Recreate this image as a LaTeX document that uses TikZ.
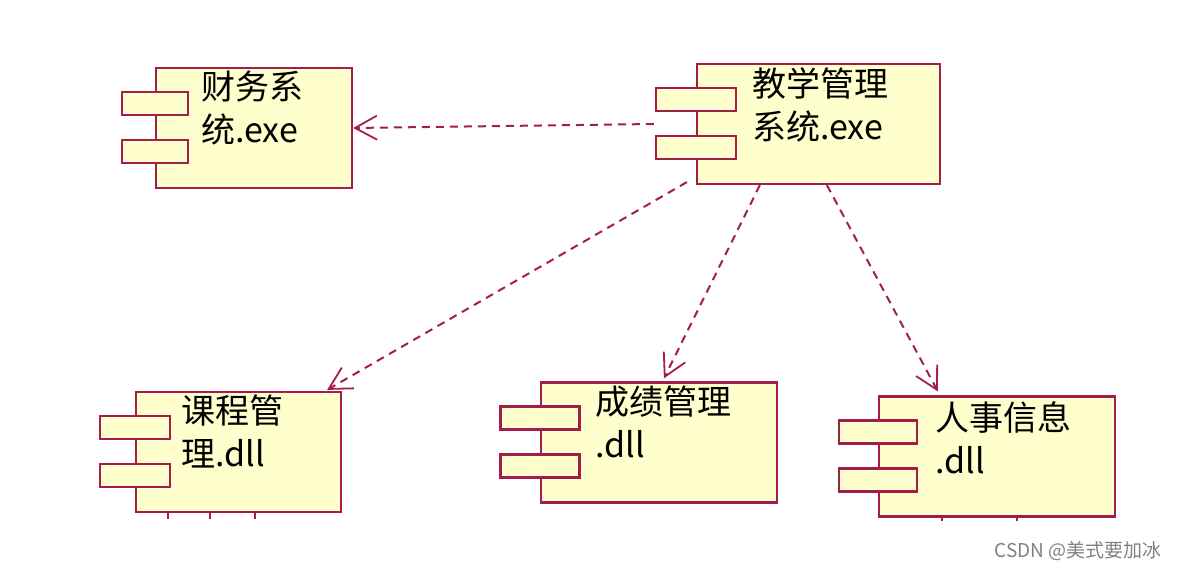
\documentclass[tikz,border=0pt]{standalone}
\usepackage{fontspec}
\setmainfont{Noto Sans CJK SC}
\usetikzlibrary{arrows.meta,calc}
\definecolor{umlred}{RGB}{165,30,75}
\definecolor{umlfill}{RGB}{255,255,206}
\begin{document}
\begin{tikzpicture}[x=0.5pt, y=-0.5pt,
    comp/.style={draw=umlred, fill=umlfill, line width=1.1pt, minimum height=60pt, inner sep=0pt},
    tab/.style={comp, minimum height=11.5pt},
    lbl/.style={anchor=north west, inner sep=0pt, align=left, font=\fontsize{17}{21.5}\selectfont},
    dep/.style={draw=umlred, line width=1pt, dash pattern=on 4pt off 3pt,
      -{Straight Barb[length=11pt, width=12pt, line width=0.9pt]}},
    tick/.style={draw=umlred, line width=1pt}]
  \useasboundingbox (0,0) rectangle (1181,571);
  % components
  \node[comp, minimum width=98pt] (cw) at (254,128) {};
  \node[tab, minimum width=33pt] (cw-t1) at ($(cw.north west)+(0,36.5)$) {};
  \node[tab, minimum width=33pt] (cw-t2) at ($(cw.north west)+(0,84.5)$) {};
  \node[lbl] (cw-l) at ($(cw.north west)+(46,4)$) {财务系\\统.exe};

  \node[comp, minimum width=121.5pt] (jx) at (818.5,124) {};
  \node[tab, minimum width=40pt] (jx-t1) at ($(jx.north west)+(0,36.5)$) {};
  \node[tab, minimum width=40pt] (jx-t2) at ($(jx.north west)+(0,84.5)$) {};
  \node[lbl] (jx-l) at ($(jx.north west)+(56,4)$) {教学管理\\系统.exe};

  \node[comp, minimum width=102.5pt] (kc) at (238.5,452) {};
  \node[tab, minimum width=35pt] (kc-t1) at ($(kc.north west)+(0,36.5)$) {};
  \node[tab, minimum width=35pt] (kc-t2) at ($(kc.north west)+(0,84.5)$) {};
  \node[lbl] (kc-l) at ($(kc.north west)+(46,4)$) {课程管\\理.dll};

  \node[comp, minimum width=118pt] (cj) at (659,442.5) {};
  \node[tab, minimum width=39.5pt] (cj-t1) at ($(cj.north west)+(0,36.5)$) {};
  \node[tab, minimum width=39.5pt] (cj-t2) at ($(cj.north west)+(0,84.5)$) {};
  \node[lbl] (cj-l) at ($(cj.north west)+(55,4)$) {成绩管理\\.dll};

  \node[comp, minimum width=118pt] (rs) at (997,456.5) {};
  \node[tab, minimum width=39pt] (rs-t1) at ($(rs.north west)+(0,36.5)$) {};
  \node[tab, minimum width=39pt] (rs-t2) at ($(rs.north west)+(0,84.5)$) {};
  \node[lbl] (rs-l) at ($(rs.north west)+(57,6)$) {人事信息\\.dll};

  % small marks under the boxes
  \foreach \dx in {33,75,120} \draw[tick] ($(kc.south west)+(\dx,0)$) -- ++(0,6);
  \foreach \dx in {64,139} \draw[tick] ($(rs.south west)+(\dx,0)$) -- ++(0,3);

  % dependencies
  \draw[dep] ($(jx.west)+(-42,0)$) -- (cw.east);
  \draw[dep] ($(jx.south west)+(-9,-3)$) -- ($(kc.north east)+(-15,-1)$);
  \draw[dep] ($(jx.south west)+(64,0)$) -- ($(cj.north west)+(124,-3)$);
  \draw[dep] ($(jx.south west)+(131,0)$) -- ($(rs.north west)+(60,-4)$);

  \node[font=\fontsize{9.5}{11}\selectfont, text=gray] (mark) at (1078,551) {CSDN @美式要加冰};
\end{tikzpicture}
\end{document}
